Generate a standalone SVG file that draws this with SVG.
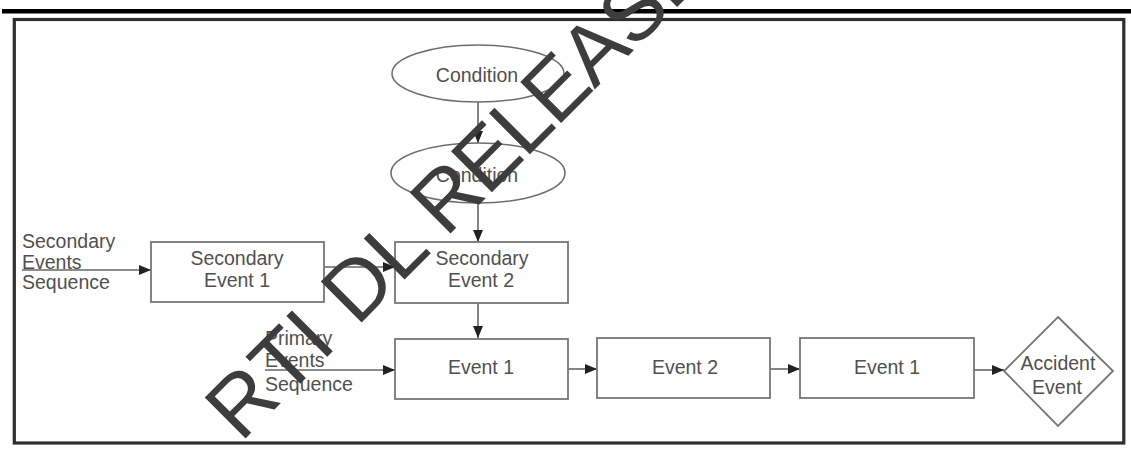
<svg xmlns="http://www.w3.org/2000/svg" width="1131" height="449" viewBox="0 0 1131 449">
  <style>
    .lbl { font-family: "Liberation Sans", Arial, sans-serif; font-size: 19.5px; fill: #505050; }
    .mid { text-anchor: middle; }
    .box { fill: #ffffff; stroke: #767676; stroke-width: 1.8; }
    .ell { fill: #ffffff; stroke: #6e6e6e; stroke-width: 1.6; }
    .edge { fill: none; stroke: #666666; stroke-width: 1.6; marker-end: url(#arrow); }
    .mark { font-family: "Liberation Sans", Arial, sans-serif; font-size: 84px; fill: #3d3d3d; text-anchor: middle; }
  </style>
  <defs>
    <marker id="arrow" viewBox="0 0 12 10" refX="12" refY="5" markerWidth="12" markerHeight="10" markerUnits="userSpaceOnUse" orient="auto">
      <path d="M0,0 L12,5 L0,10 Z" fill="#222222"/>
    </marker>
  </defs>

  <rect width="1131" height="449" fill="#ffffff"/>

  <!-- page rule and outer frame -->
  <rect x="2" y="9" width="1129" height="4.5" fill="#000000"/>
  <rect x="14.3" y="19.5" width="1109.5" height="423.5" fill="none" stroke="#2e2e2e" stroke-width="3.2"/>

  <!-- connectors -->
  <g id="connectors">
    <line class="edge" x1="478" y1="102" x2="478" y2="143"/>
    <line class="edge" x1="478" y1="203" x2="478" y2="242"/>
    <line class="edge" x1="478" y1="303" x2="478" y2="338"/>
    <line class="edge" x1="22" y1="270" x2="151" y2="270"/>
    <line class="edge" x1="325" y1="267" x2="395" y2="267"/>
    <line class="edge" x1="265" y1="370" x2="395" y2="370"/>
    <line class="edge" x1="568" y1="369" x2="597" y2="369"/>
    <line class="edge" x1="770" y1="369" x2="800" y2="369"/>
    <line class="edge" x1="974" y1="370" x2="1004" y2="370"/>
  </g>

  <!-- nodes -->
  <g id="condition-1">
    <ellipse class="ell" cx="478" cy="73.5" rx="86" ry="28.5"/>
    <text class="lbl mid" x="477" y="82">Condition</text>
  </g>
  <g id="condition-2">
    <ellipse class="ell" cx="478" cy="173" rx="87" ry="30"/>
    <text class="lbl mid" x="477" y="182">Condition</text>
  </g>
  <g id="secondary-sequence-label">
    <text class="lbl" x="22" y="248">Secondary</text>
    <text class="lbl" x="22" y="269">Events</text>
    <text class="lbl" x="22" y="289">Sequence</text>
  </g>
  <g id="secondary-event-1">
    <rect class="box" x="151" y="242" width="173" height="60"/>
    <text class="lbl mid" x="237" y="265">Secondary</text>
    <text class="lbl mid" x="237" y="287">Event 1</text>
  </g>
  <g id="secondary-event-2">
    <rect class="box" x="395" y="242" width="173" height="61"/>
    <text class="lbl mid" x="482" y="265">Secondary</text>
    <text class="lbl mid" x="481" y="287">Event 2</text>
  </g>
  <g id="primary-sequence-label">
    <text class="lbl" x="265" y="345">Primary</text>
    <text class="lbl" x="265" y="367">Events</text>
    <text class="lbl" x="265" y="391">Sequence</text>
  </g>
  <g id="event-1">
    <rect class="box" x="395" y="339" width="173" height="60"/>
    <text class="lbl mid" x="481" y="374">Event 1</text>
  </g>
  <g id="event-2">
    <rect class="box" x="597" y="338" width="173" height="60"/>
    <text class="lbl mid" x="685" y="374">Event 2</text>
  </g>
  <g id="event-3">
    <rect class="box" x="800" y="338" width="174" height="60"/>
    <text class="lbl mid" x="887" y="374">Event 1</text>
  </g>
  <g id="accident-event">
    <polygon class="box" points="1058,317 1113,371 1058,426 1004,371"/>
    <text class="lbl mid" x="1058" y="370">Accident</text>
    <text class="lbl mid" x="1057" y="394">Event</text>
  </g>

  <!-- release stamp across the sheet -->
  <g id="stamp" transform="translate(236,407) rotate(-45)">
    <text class="mark" x="8 66 104 137 172 226 258 298 354 403 452 506 561 616" y="29">RTI DL RELEASE</text>
  </g>
</svg>
